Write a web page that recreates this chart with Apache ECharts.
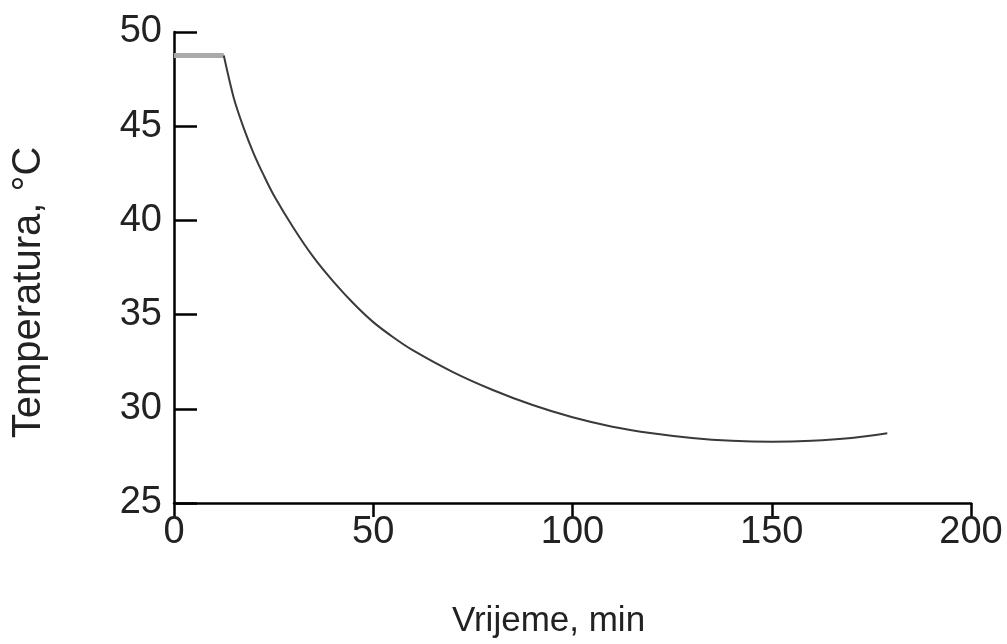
<!DOCTYPE html>
<html>
<head>
<meta charset="utf-8">
<script src="https://cdn.jsdelivr.net/npm/echarts@6/dist/echarts.min.js"></script>
<style>
html,body{margin:0;padding:0;background:#fff;}
#chart{width:1007px;height:644px;}
</style>
</head>
<body>
<div id="chart"></div>
<script>
// Data
const plateauTime = [0, 12.5];
const plateauTemp = [48.75, 48.75];
const curveTime = [12.5, 15, 17.5, 20, 22.5, 25, 30, 35, 40, 45, 50, 55, 60, 70, 80, 90, 100, 110, 120, 130, 140, 150, 160, 170, 179];
const curveTemp = [48.75, 46.5, 44.9, 43.55, 42.4, 41.35, 39.6, 38.05, 36.75, 35.6, 34.6, 33.8, 33.1, 31.95, 31.0, 30.2, 29.55, 29.05, 28.7, 28.45, 28.3, 28.25, 28.3, 28.45, 28.7];
const xTicks = [0, 50, 100, 150, 200];
const yTicks = [25, 30, 35, 40, 45, 50];
const xName = 'Vrijeme, min';
const yName = 'Temperatura, °C';

const font = '"Liberation Sans", Arial, sans-serif';
const chart = echarts.init(document.getElementById('chart'));
chart.setOption({
  animation: false,
  grid: {left: 174, right: 36, top: 32, bottom: 140, containLabel: false},
  xAxis: {
    type: 'value', min: xTicks[0], max: xTicks[xTicks.length-1], interval: 50,
    name: xName, nameLocation: 'middle', nameGap: 101,
    nameTextStyle: {fontFamily: font, fontSize: 35, color: '#222', padding: [0, 48, 0, 0]},
    axisLine: {lineStyle: {color: '#000', width: 2.5}},
    axisTick: {show: true, inside: false, length: 14, lineStyle: {color: '#000', width: 2.5}},
    axisLabel: {fontFamily: font, fontSize: 38, color: '#222', margin: 11},
    splitLine: {show: false}
  },
  yAxis: {
    type: 'value', min: yTicks[0], max: yTicks[yTicks.length-1], interval: 5,
    name: yName, nameLocation: 'middle', nameGap: 125, nameRotate: 90,
    nameTextStyle: {fontFamily: font, fontSize: 40, color: '#222', padding: [0, 50, 0, 0]},
    axisLine: {show: true, lineStyle: {color: '#000', width: 2.5}},
    axisTick: {show: true, inside: true, length: 23, lineStyle: {color: '#000', width: 2.5}},
    axisLabel: {fontFamily: font, fontSize: 38, color: '#222', margin: 12},
    splitLine: {show: false}
  },
  series: [
    {
      type: 'line', data: plateauTime.map((t, i) => [t, plateauTemp[i]]),
      symbol: 'none', lineStyle: {color: '#aaaaaa', width: 5}, z: 2
    },
    {
      type: 'line', data: curveTime.map((t, i) => [t, curveTemp[i]]),
      symbol: 'none', smooth: 0.3, lineStyle: {color: '#3a3a3a', width: 2}, z: 3
    }
  ]
});
</script>
</body>
</html>
